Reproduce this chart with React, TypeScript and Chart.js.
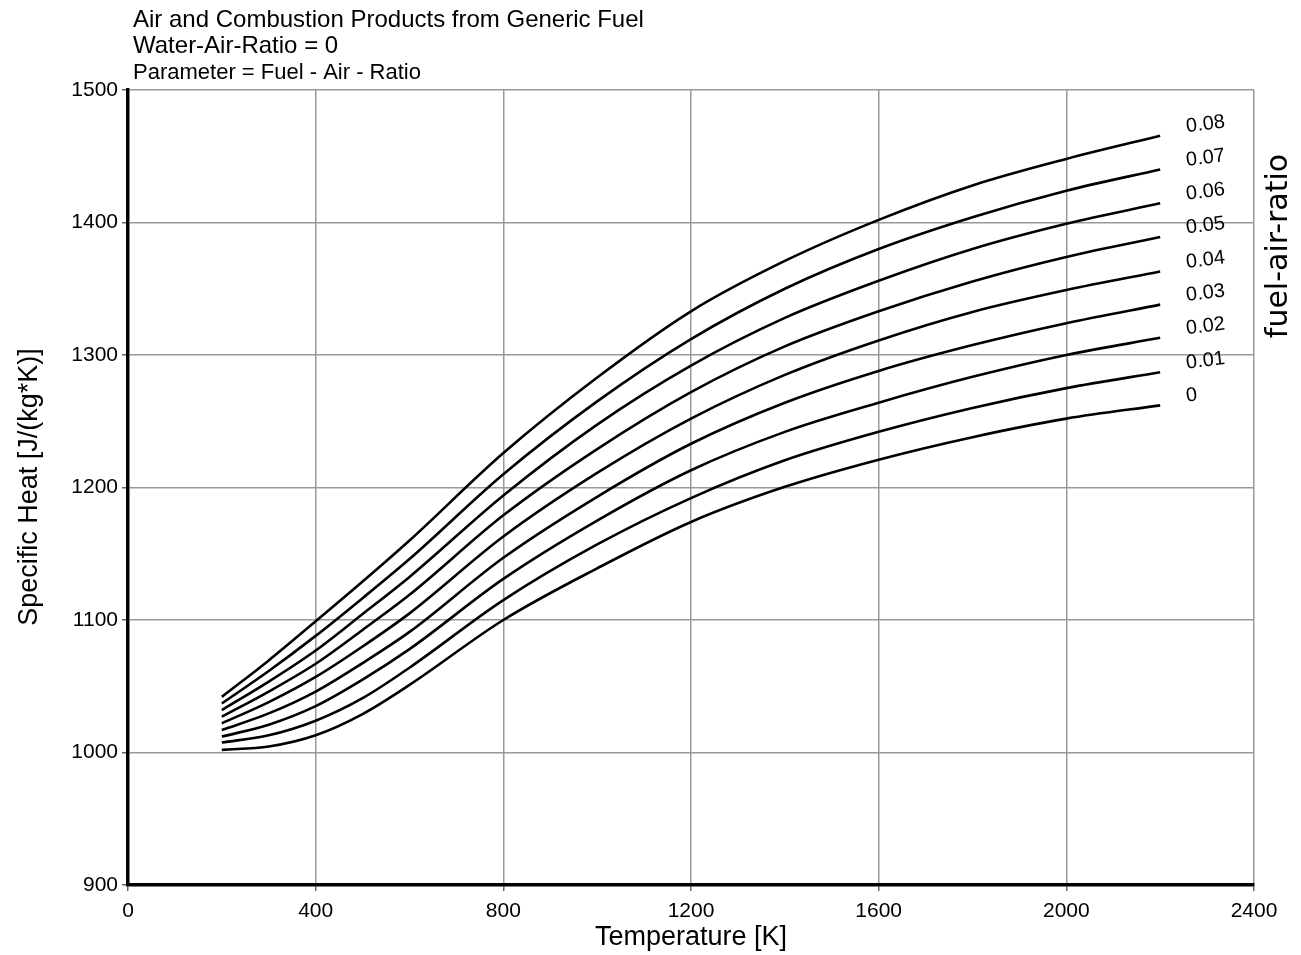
import React, { useEffect, useRef } from "react";
import { Chart, registerables } from "chart.js";

Chart.register(...registerables);

const TEMPS = [200, 300, 400, 500, 600, 800, 1000, 1200, 1400, 1600, 1800, 2000, 2200];
const FAR_LABELS = ["0", "0.01", "0.02", "0.03", "0.04", "0.05", "0.06", "0.07", "0.08"];

const CP_000 = [1002, 1004.5, 1013, 1029, 1051, 1100, 1139, 1174, 1200.5, 1221, 1238, 1252, 1262];
const CP_001 = [1007.5, 1013, 1024, 1041, 1064, 1115, 1157, 1192, 1220.5, 1242, 1260, 1275, 1287];
const CP_002 = [1012, 1021, 1035, 1055, 1078, 1131, 1175, 1213, 1242, 1264, 1283.5, 1300, 1313];
const CP_003 = [1017, 1029.5, 1046, 1067.5, 1091, 1147, 1193, 1233, 1264, 1288, 1307.5, 1324, 1338];
const CP_004 = [1022, 1038, 1057, 1080, 1105, 1163, 1211, 1252, 1285, 1311, 1332.5, 1349, 1363];
const CP_005 = [1027, 1046, 1067, 1092.5, 1119, 1179, 1229, 1272, 1306.5, 1333, 1355.5, 1374, 1389];
const CP_006 = [1032, 1053.5, 1077, 1104.5, 1132.5, 1194, 1247.5, 1292, 1328, 1356, 1380, 1399, 1414.5];
const CP_007 = [1037, 1061.5, 1088, 1116.5, 1146, 1210, 1265, 1312, 1350, 1380, 1404, 1424, 1440];
const CP_008 = [1042, 1069.5, 1099, 1129, 1160, 1226, 1283, 1333, 1371, 1402, 1428, 1448, 1465.5];

const SERIES = [CP_000, CP_001, CP_002, CP_003, CP_004, CP_005, CP_006, CP_007, CP_008];

const X_MIN = 0;
const X_MAX = 2400;
const X_STEP = 400;
const Y_MIN = 900;
const Y_MAX = 1500;
const Y_STEP = 100;

const TITLE_LINES = [
  "Air and Combustion Products from Generic Fuel",
  "Water-Air-Ratio = 0",
  "Parameter = Fuel - Air - Ratio",
];
const X_TITLE = "Temperature [K]";
const Y_TITLE = "Specific Heat [J/(kg*K)]";
const PARAM_TITLE = "fuel-air-ratio";

const FONT = '"Liberation Sans", Arial, sans-serif';

const textPlugin = {
  id: "textPlugin",
  afterDatasetsDraw(chart: any) {
    const ctx = chart.ctx;
    chart.data.datasets.forEach((ds: any, i: number) => {
      const meta = chart.getDatasetMeta(i);
      const pt = meta.data[meta.data.length - 1];
      if (!pt) return;
      ctx.save();
      ctx.translate(pt.x + 26, pt.y - 9);
      ctx.rotate((-7 * Math.PI) / 180);
      ctx.font = `20px ${FONT}`;
      ctx.textBaseline = "middle";
      ctx.textAlign = "left";
      ctx.fillStyle = "#000";
      ctx.fillText(ds.label, 0, 0);
      ctx.restore();
    });
  },
  afterDraw(chart: any) {
    const ctx = chart.ctx;
    const area = chart.chartArea;
    ctx.save();
    ctx.fillStyle = "#000";
    ctx.textAlign = "left";
    ctx.textBaseline = "alphabetic";
    ctx.font = `24px ${FONT}`;
    ctx.fillText(TITLE_LINES[0], 133, 27);
    ctx.fillText(TITLE_LINES[1], 133, 53);
    ctx.font = `22px ${FONT}`;
    ctx.fillText(TITLE_LINES[2], 133, 79);

    ctx.font = `27px ${FONT}`;
    ctx.textAlign = "center";
    ctx.textBaseline = "middle";
    ctx.fillText(X_TITLE, (area.left + area.right) / 2, 938);

    ctx.save();
    ctx.translate(30, 487);
    ctx.rotate(-Math.PI / 2);
    ctx.font = `27px ${FONT}`;
    ctx.fillText(Y_TITLE, 0, 0);
    ctx.restore();

    ctx.save();
    ctx.translate(1279, 246);
    ctx.rotate(-Math.PI / 2);
    ctx.font = `30px "DejaVu Sans", ${FONT}`;
    ctx.fillText(PARAM_TITLE, 0, 0);
    ctx.restore();
    ctx.restore();
  },
};

export default function App() {
  const canvasRef = useRef<HTMLCanvasElement | null>(null);

  useEffect(() => {
    const canvas = canvasRef.current;
    if (!canvas) return;
    const datasets = SERIES.map((vals, i) => ({
      label: FAR_LABELS[i],
      data: TEMPS.map((t, j) => ({ x: t, y: vals[j] })),
      borderColor: "#000",
      backgroundColor: "#000",
      borderWidth: 2.6,
      pointRadius: 0,
      fill: false,
      cubicInterpolationMode: "monotone" as const,
    }));

    const chart = new Chart(canvas, {
      type: "line",
      data: { datasets },
      options: {
        responsive: false,
        animation: false,
        events: [],
        layout: { padding: { left: 0, right: 47, top: 90, bottom: 0 } },
        plugins: {
          legend: { display: false },
          title: { display: false },
          tooltip: { enabled: false },
        },
        scales: {
          x: {
            type: "linear",
            min: X_MIN,
            max: X_MAX,
            ticks: {
              stepSize: X_STEP,
              color: "#000",
              font: { family: FONT, size: 21 },
              padding: 8,
              maxRotation: 0,
              callback: (v: any) => String(v),
            },
            grid: { color: "#999", lineWidth: 1.5, tickLength: 6, tickColor: "#666" },
            border: { color: "#000", width: 3.5 },
            afterFit(scale: any) {
              scale.height = 70;
            },
          },
          y: {
            type: "linear",
            min: Y_MIN,
            max: Y_MAX,
            ticks: {
              stepSize: Y_STEP,
              color: "#000",
              font: { family: FONT, size: 21 },
              padding: 4,
              callback: (v: any) => String(v),
            },
            grid: { color: "#999", lineWidth: 1.5, tickLength: 6, tickColor: "#666" },
            border: { color: "#000", width: 3.5 },
            afterFit(scale: any) {
              scale.width = 128;
            },
          },
        },
      },
      plugins: [textPlugin],
    });
    return () => chart.destroy();
  }, []);

  return (
    <div style={{ position: "absolute", left: 0, top: 0, width: 1301, height: 955, background: "#fff" }}>
      <canvas ref={canvasRef} width={1301} height={955} style={{ display: "block" }} />
    </div>
  );
}
